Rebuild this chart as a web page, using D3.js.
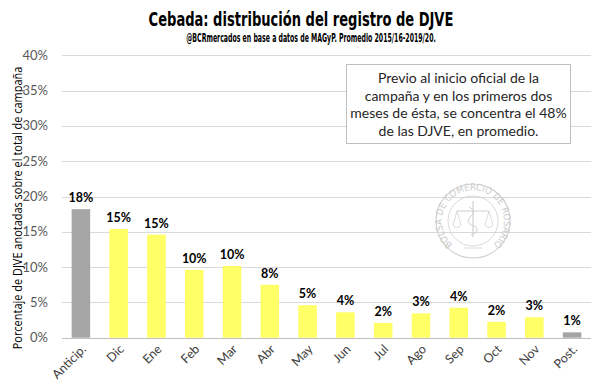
<!DOCTYPE html>
<html><head><meta charset="utf-8">
<script src="https://cdn.jsdelivr.net/npm/d3@7"></script>
<style>body{margin:0;background:#fff}svg{display:block}</style>
</head><body>
<script>
const categories = ["Anticip.","Dic","Ene","Feb","Mar","Abr","May","Jun","Jul","Ago","Sep","Oct","Nov","Post."];
const values = [18.2,15.4,14.6,9.6,10.15,7.5,4.6,3.6,2.1,3.45,4.25,2.25,2.9,0.76];
const grayCats = ["Anticip.","Post."];
const yTicks = [0,5,10,15,20,25,30,35,40];
const title = "Cebada: distribución del registro de DJVE";
const subtitle = "@BCRmercados en base a datos de MAGyP. Promedio 2015/16-2019/20.";
const yLabel = "Porcentaje de DJVE anotadas sobre el total de campaña";
const note = ["Previo al inicio oficial de la","campaña y en los primeros dos","meses de ésta, se concentra el 48%","de las DJVE, en promedio."];

const W=600,H=392;
const svg=d3.select("body").append("svg").attr("width",W).attr("height",H);
const font="Lato, 'Open Sans', sans-serif";
const narrow="'Liberation Sans Narrow','DejaVu Sans Condensed',sans-serif";
const x=d3.scaleBand().domain(categories).range([62,591]).paddingInner(0.51).paddingOuter(0.255);
const y=d3.scaleLinear().domain([0,40]).range([337.7,55.3]);

function fitText(sel, target, cx, cy, rot){
  const len = sel.node().getComputedTextLength();
  const s = target/len;
  sel.attr("transform",`translate(${cx},${cy}) rotate(${rot||0}) scale(${s},1)`);
}

// grid
svg.append("g").selectAll("line").data(yTicks).join("line")
 .attr("x1",62).attr("x2",591).attr("y1",d=>Math.round(y(d))+0.5).attr("y2",d=>Math.round(y(d))+0.5)
 .attr("stroke",d=>d===0?"#bfbfbf":"#d9d9d9").attr("stroke-width",1);
svg.append("g").selectAll("text").data(yTicks).join("text")
 .attr("x",48).attr("y",d=>y(d)+4.5).attr("text-anchor","end")
 .attr("font-family",font).attr("font-size",13).attr("fill","#595959").text(d=>d+"%");

// watermark seal
const wm=svg.append("g").attr("transform","translate(473,221)").attr("fill","none").attr("stroke","#d0d0d0");
wm.append("circle").attr("r",37).attr("stroke-width",1.2);
wm.append("circle").attr("r",25).attr("stroke-width",0.8);
wm.append("path").attr("id","sealarc").attr("d","M -22,22 A 31 31 0 1 1 22,22").attr("stroke","none");
wm.append("text").attr("fill","#cccccc").attr("stroke","none").attr("font-family","'DejaVu Sans Condensed',sans-serif").attr("font-size",9.5)
 .append("textPath").attr("href","#sealarc").attr("startOffset","50%").attr("text-anchor","middle")
 .attr("textLength",150).attr("lengthAdjust","spacing").text("BOLSA DE COMERCIO DE ROSARIO");
wm.append("line").attr("x1",0).attr("x2",0).attr("y1",-20).attr("y2",16).attr("stroke-width",1.2);
wm.append("line").attr("x1",-16).attr("x2",16).attr("y1",-10).attr("y2",-10).attr("stroke-width",1);
wm.append("path").attr("d","M -20,4 Q -16,9 -12,4 M 12,4 Q 16,9 20,4 M -16,-10 L -20,4 M -16,-10 L -12,4 M 16,-10 L 12,4 M 16,-10 L 20,4").attr("stroke-width",0.8);
wm.append("path").attr("d","M -4,-14 Q 5,-10 -3,-4 Q -9,2 3,6 Q 7,10 -2,14").attr("stroke-width",1);
wm.append("path").attr("d","M -9,27 L 9,27").attr("stroke-width",0.8);

// bars
svg.append("g").selectAll("rect").data(categories).join("rect")
 .attr("x",d=>x(d)).attr("width",x.bandwidth())
 .attr("y",(d,i)=>y(values[i])).attr("height",(d,i)=>y(0)-y(values[i]))
 .attr("fill",d=>grayCats.includes(d)?"#a5a5a5":"#ffff66");
svg.append("g").selectAll("text").data(categories).join("text")
 .attr("x",d=>x(d)+x.bandwidth()/2).attr("y",(d,i)=>y(values[i])-7)
 .attr("text-anchor","middle").attr("font-family",font).attr("font-weight","bold").attr("font-size",12.5)
 .attr("fill","#000").text((d,i)=>Math.round(values[i])+"%");

// x labels
svg.append("g").selectAll("text").data(categories).join("text")
 .attr("transform",d=>`translate(${x(d)+x.bandwidth()/2+6},${350}) rotate(-45)`)
 .attr("text-anchor","end").attr("font-family",font).attr("font-size",12.5).attr("fill","#404040").text(d=>d);

// y label
const yl=svg.append("text").attr("text-anchor","middle")
 .attr("font-family","'Open Sans',sans-serif").attr("font-size",12).attr("fill","#000").text(yLabel);
fitText(yl,283,22,208,-90);

// title
const t=svg.append("text").attr("text-anchor","middle").attr("font-family",narrow).attr("font-weight","bold")
 .attr("font-size",20).attr("fill","#000").text(title);
fitText(t,305,301,26);
const st=svg.append("text").attr("text-anchor","middle").attr("font-family",narrow).attr("font-weight","bold")
 .attr("font-size",12).attr("fill","#000").text(subtitle);
fitText(st,250,311,42);

// note box
svg.append("rect").attr("x",346.5).attr("y",64.5).attr("width",224).attr("height",79)
 .attr("fill","#fff").attr("stroke","#bfbfbf");
svg.append("g").selectAll("text").data(note).join("text")
 .attr("x",458.5).attr("y",(d,i)=>83+i*17.6).attr("text-anchor","middle")
 .attr("font-family",font).attr("font-size",14).attr("fill","#262626").text(d=>d);
</script>
</body></html>
